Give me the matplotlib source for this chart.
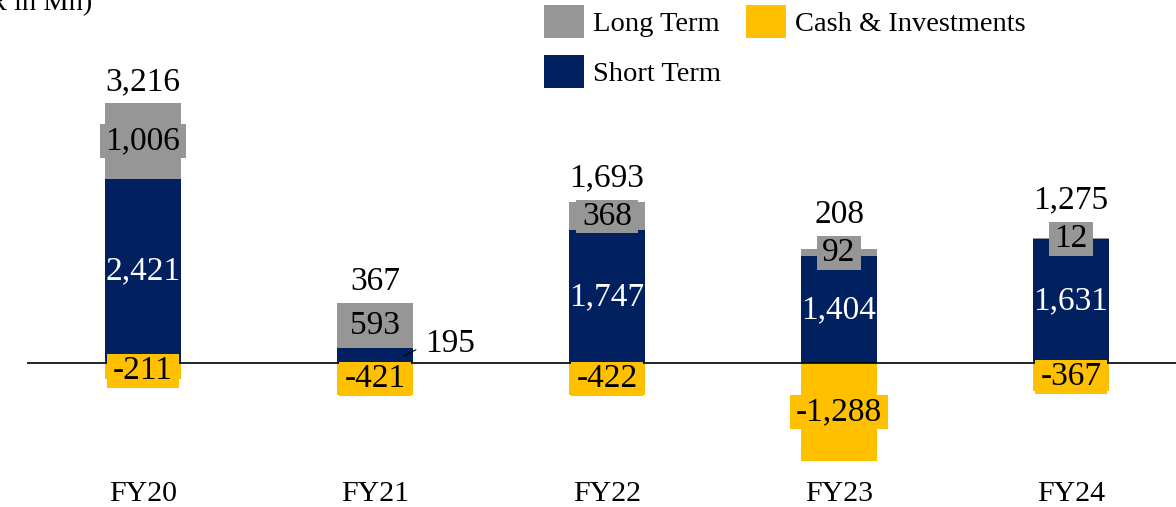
import matplotlib
matplotlib.use("Agg")
import matplotlib.pyplot as plt
from matplotlib.font_manager import FontProperties
from matplotlib.path import Path

categories = ["FY20", "FY21", "FY22", "FY23", "FY24"]
short_term = [2421, 195, 1747, 1404, 1631]
long_term = [1006, 593, 368, 92, 12]
cash_inv = [-211, -421, -422, -1288, -367]
totals = [3216, 367, 1693, 208, 1275]

NAVY = "#002060"
GRAY = "#969696"
GOLD = "#FFC000"
FONT = "Liberation Serif"

W, H, DPI = 1176, 507, 100
fig = plt.figure(figsize=(W / DPI, H / DPI), dpi=DPI)
left_px, bottom_px = 27, 37
ax = fig.add_axes([left_px / W, bottom_px / H, (W - left_px) / W, (H - bottom_px) / H])
ax.set_xlim(-0.5, -0.5 + (W - left_px) / 232.0)
ax.set_ylim(-1410, 4783)
for s in ax.spines.values():
    s.set_visible(False)
ax.set_yticks([])


def label_box(x0, y0, width, height, mutation_size):
    px = 0.17 * mutation_size
    py = 0.05 * mutation_size
    xa, xb = x0 - px, x0 + width + px
    ya, yb = y0 - py, y0 + height + py
    return Path([(xa, ya), (xb, ya), (xb, yb), (xa, yb), (xa, ya)],
                [Path.MOVETO, Path.LINETO, Path.LINETO, Path.LINETO, Path.CLOSEPOLY])


x = list(range(len(categories)))
bw = 0.33
b_short = ax.bar(x, short_term, bw, color=NAVY, zorder=2, label="Short Term")
b_long = ax.bar(x, long_term, bw, bottom=short_term, color=GRAY, zorder=2, label="Long Term")
b_cash = ax.bar(x, cash_inv, bw, color=GOLD, zorder=2, label="Cash & Investments")
ax.axhline(0, color="black", lw=1.2, zorder=3)

ax.set_xticks(x)
ax.set_xticklabels(categories, fontfamily=FONT, fontsize=21.5)
ax.tick_params(axis="x", length=0, pad=8)

num_size = 24
px_per_unit = ax.transData.transform((0, 1))[1] - ax.transData.transform((0, 0))[1]

for i in x:
    # short term
    if short_term[i] * px_per_unit > 30:
        ax.text(i, short_term[i] / 2, f"{short_term[i]:,}", ha="center", va="center",
                color="white", fontfamily=FONT, fontsize=num_size, zorder=5)
    else:
        ax.annotate(f"{short_term[i]:,}", xy=(i + 0.125, 7 / px_per_unit),
                    xytext=(15, 9), textcoords="offset points", ha="left", va="center",
                    fontfamily=FONT, fontsize=num_size, zorder=5,
                    arrowprops=dict(arrowstyle="-", color="black", lw=0.8,
                                    relpos=(0, 0.45), shrinkA=5, shrinkB=0))
    # long term
    ax.text(i, short_term[i] + long_term[i] / 2, f"{long_term[i]:,}", ha="center",
            va="center", color="black", fontfamily=FONT, fontsize=num_size, zorder=5,
            bbox=dict(boxstyle=label_box, facecolor=GRAY, edgecolor="none"))
    # cash
    ax.text(i, cash_inv[i] / 2, f"{cash_inv[i]:,}", ha="center", va="center",
            color="black", fontfamily=FONT, fontsize=num_size, zorder=5,
            bbox=dict(boxstyle=label_box, facecolor=GOLD, edgecolor="none"))
    # total
    top = short_term[i] + long_term[i]
    seg_px = long_term[i] * px_per_unit
    off_px = max(0.0, 17.5 - seg_px / 2) + 21
    ax.annotate(f"{totals[i]:,}", xy=(i, top), xytext=(0, off_px * 72 / DPI),
                textcoords="offset points", ha="center", va="center",
                fontfamily=FONT, fontsize=num_size, zorder=5)

fig.legend(handles=[b_long, b_short, b_cash],
           labels=["Long Term", "Short Term", "Cash & Investments"],
           ncol=2, loc="upper left", bbox_to_anchor=(544 / W, 1 - 5 / H),
           frameon=False, borderpad=0, borderaxespad=0,
           handlelength=1.4, handleheight=1.43, handletextpad=0.32,
           columnspacing=0.88, labelspacing=0.58,
           prop=FontProperties(family=FONT, size=20.5))

fig.text(92 / W, 1 - 10 / H, "(PKR in Mn)", ha="right", va="baseline",
         fontfamily=FONT, fontsize=20.5)

fig.savefig("out.png", dpi=DPI)
